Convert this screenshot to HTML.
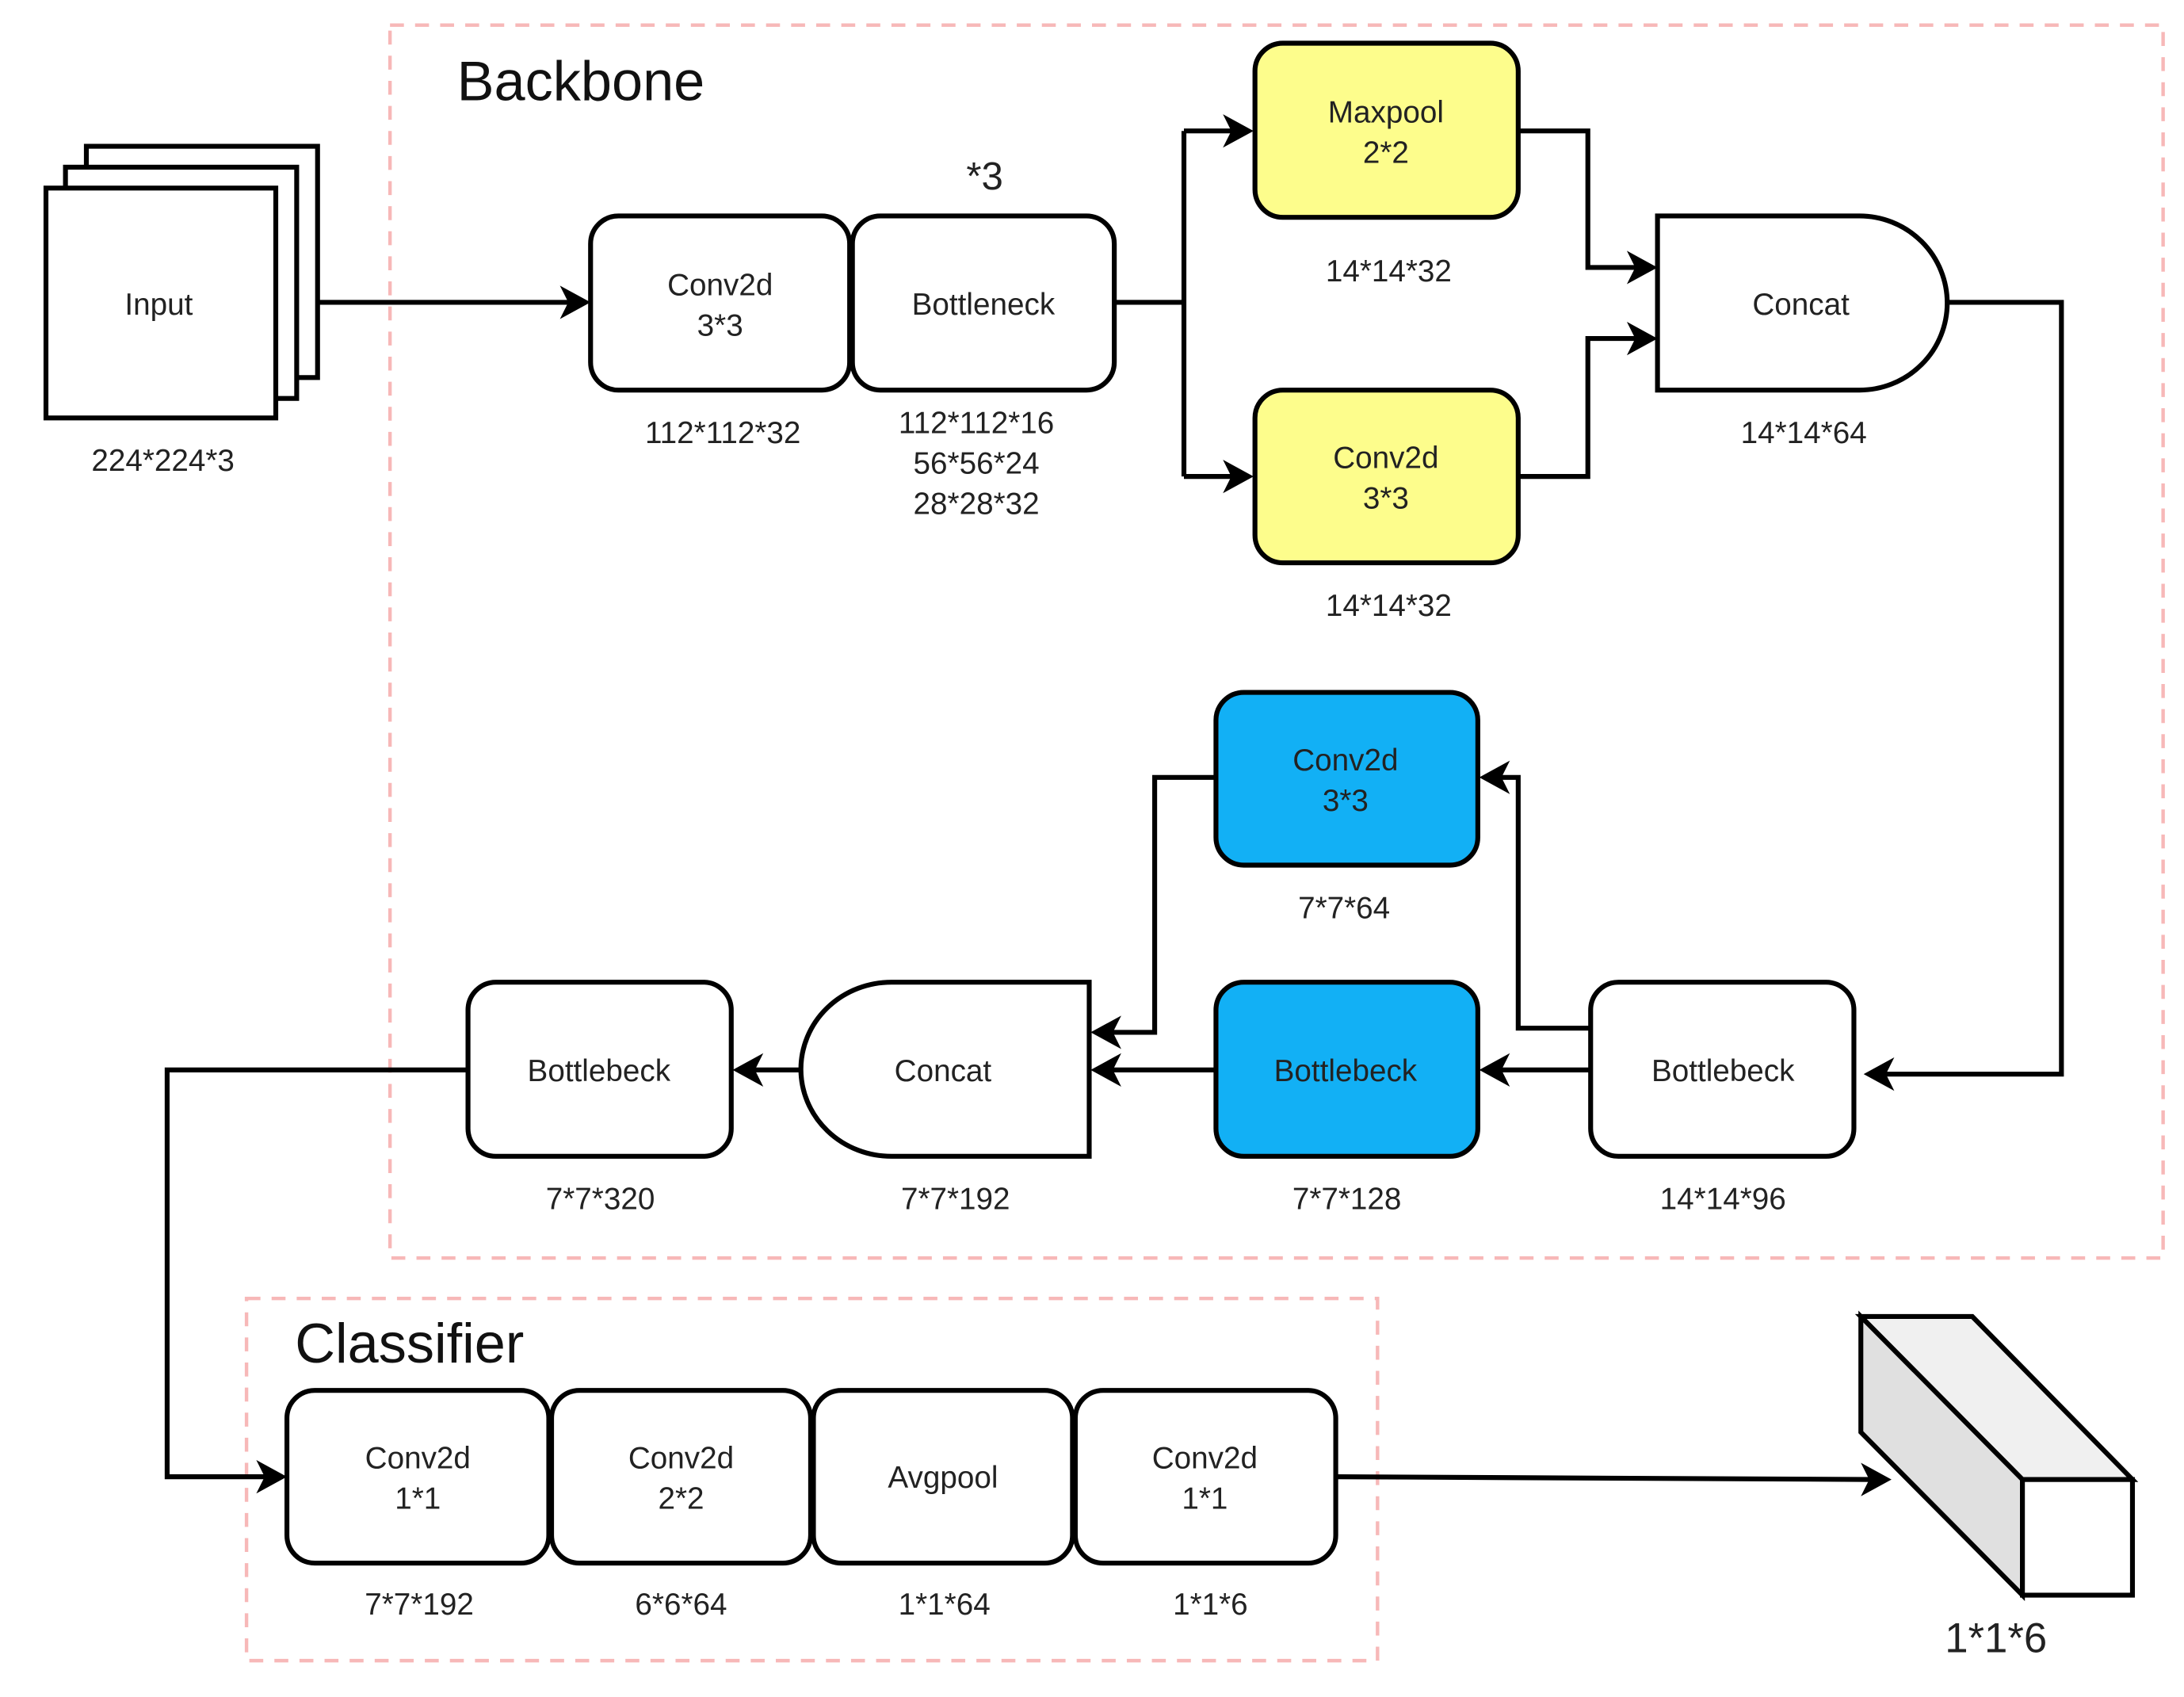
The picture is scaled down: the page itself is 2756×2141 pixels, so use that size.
<!DOCTYPE html>
<html><head><meta charset="utf-8"><style>
html,body{margin:0;padding:0;background:#fff;}
svg{display:block;}
text{font-family:"Liberation Sans",sans-serif;fill:#222;text-anchor:middle;}
</style></head><body>
<svg width="2756" height="2141" viewBox="0 0 1568 1218.1" preserveAspectRatio="none" xmlns="http://www.w3.org/2000/svg">
<defs>
<marker id="a" markerWidth="10" markerHeight="10" refX="9" refY="5" orient="auto" markerUnits="userSpaceOnUse" viewBox="0 0 10 10">
</marker>
</defs>
<g fill="none" stroke="#f7b8b8" stroke-width="2.5" stroke-dasharray="10,8">
<rect x="280" y="18" width="1273" height="885"/>
<rect x="177" y="932" width="812" height="260"/>
</g>
<text x="417" y="72" style="font-size:40px;fill:#111">Backbone</text>
<text x="294" y="978" style="font-size:40px;fill:#111">Classifier</text>
<g stroke="#000" stroke-width="3.5" fill="#fff">
<rect x="62" y="105" width="166" height="166"/>
<rect x="47" y="120" width="166" height="166"/>
<rect x="33" y="135" width="165" height="165"/>
</g>
<g stroke="#000" stroke-width="3.5" fill="none">
<path d="M228,217 H410"/>
<path d="M800,217 H850 M850,94 V342 M850,94 H888 M850,342 H888"/>
<path d="M1090,94 H1140 V192 H1178 M1090,342 H1140 V243 H1178"/>
<path d="M1398,217 H1480 V771 H1350"/>
<path d="M1142,768 H1074 M1142,738 H1090 V558 H1074"/>
<path d="M873,558 H829 V741 H795 M873,768 H795 M575,768 H538"/>
<path d="M336,768 H120 V1060 H193"/>
<path d="M959,1060 L1346,1062"/>
</g>
<g fill="#000">
<path d="M424,217 l-22,-12 l6,12 l-6,12z"/>
<path d="M900,94 l-22,-12 l6,12 l-6,12z"/>
<path d="M900,342 l-22,-12 l6,12 l-6,12z"/>
<path d="M1190,192 l-22,-12 l6,12 l-6,12z"/>
<path d="M1190,243 l-22,-12 l6,12 l-6,12z"/>
<path d="M1338,771 l22,-12 l-6,12 l6,12z"/>
<path d="M1062,768 l22,-12 l-6,12 l6,12z"/>
<path d="M1062,558 l22,-12 l-6,12 l6,12z"/>
<path d="M783,741 l22,-12 l-6,12 l6,12z"/>
<path d="M783,768 l22,-12 l-6,12 l6,12z"/>
<path d="M526,768 l22,-12 l-6,12 l6,12z"/>
<path d="M206,1060 l-22,-12 l6,12 l-6,12z"/>
<path d="M1358,1062 l-22,-12 l6,12 l-6,12z"/>
</g>
<g stroke="#000" stroke-width="3.5">
<rect x="424" y="155" width="186" height="125" rx="20" fill="#fff"/>
<rect x="612" y="155" width="188" height="125" rx="20" fill="#fff"/>
<rect x="901" y="31" width="189" height="125" rx="20" fill="#fdfd8c"/>
<rect x="901" y="280" width="189" height="124" rx="20" fill="#fdfd8c"/>
<path d="M1190,155 H1335 A63,62.5 0 0 1 1335,280 H1190 Z" fill="#fff"/>
<rect x="1142" y="705" width="189" height="125" rx="20" fill="#fff"/>
<rect x="873" y="705" width="188" height="125" rx="20" fill="#12b0f5"/>
<rect x="873" y="497" width="188" height="124" rx="20" fill="#12b0f5"/>
<path d="M782,705 H640 A65,62.5 0 0 0 640,830 H782 Z" fill="#fff"/>
<rect x="336" y="705" width="189" height="125" rx="20" fill="#fff"/>
<rect x="206" y="998" width="188" height="124" rx="20" fill="#fff"/>
<rect x="396" y="998" width="186" height="124" rx="20" fill="#fff"/>
<rect x="584" y="998" width="186" height="124" rx="20" fill="#fff"/>
<rect x="772" y="998" width="187" height="124" rx="20" fill="#fff"/>
<path d="M1336,945 H1416 L1531,1062 H1452 Z" fill="#f0f0f0"/>
<path d="M1336,945 L1452,1062 V1145 L1336,1028 Z" fill="#e0e0e0"/>
<rect x="1452" y="1062" width="79" height="83" fill="#fff"/>
</g>
<g style="font-size:22px">
<text x="114" y="226">Input</text>
<text x="117" y="338">224*224*3</text>
<text x="707" y="136" style="font-size:28px">*3</text>
<text x="517" y="212">Conv2d</text><text x="517" y="241">3*3</text>
<text x="706" y="226">Bottleneck</text>
<text x="519" y="318">112*112*32</text>
<text x="701" y="311">112*112*16</text>
<text x="701" y="340">56*56*24</text>
<text x="701" y="369">28*28*32</text>
<text x="995" y="88">Maxpool</text><text x="995" y="117">2*2</text>
<text x="995" y="336">Conv2d</text><text x="995" y="365">3*3</text>
<text x="997" y="202">14*14*32</text>
<text x="997" y="442">14*14*32</text>
<text x="1293" y="226">Concat</text>
<text x="1295" y="318">14*14*64</text>
<text x="966" y="553">Conv2d</text><text x="966" y="582">3*3</text>
<text x="965" y="659">7*7*64</text>
<text x="1237" y="776">Bottlebeck</text>
<text x="966" y="776">Bottlebeck</text>
<text x="677" y="776">Concat</text>
<text x="430" y="776">Bottlebeck</text>
<text x="1237" y="868">14*14*96</text>
<text x="967" y="868">7*7*128</text>
<text x="686" y="868">7*7*192</text>
<text x="431" y="868">7*7*320</text>
<text x="300" y="1054">Conv2d</text><text x="300" y="1083">1*1</text>
<text x="489" y="1054">Conv2d</text><text x="489" y="1083">2*2</text>
<text x="677" y="1068">Avgpool</text>
<text x="865" y="1054">Conv2d</text><text x="865" y="1083">1*1</text>
<text x="301" y="1159">7*7*192</text>
<text x="489" y="1159">6*6*64</text>
<text x="678" y="1159">1*1*64</text>
<text x="869" y="1159">1*1*6</text>
<text x="1433" y="1186" style="font-size:30px">1*1*6</text>
</g>
</svg>
</body></html>
